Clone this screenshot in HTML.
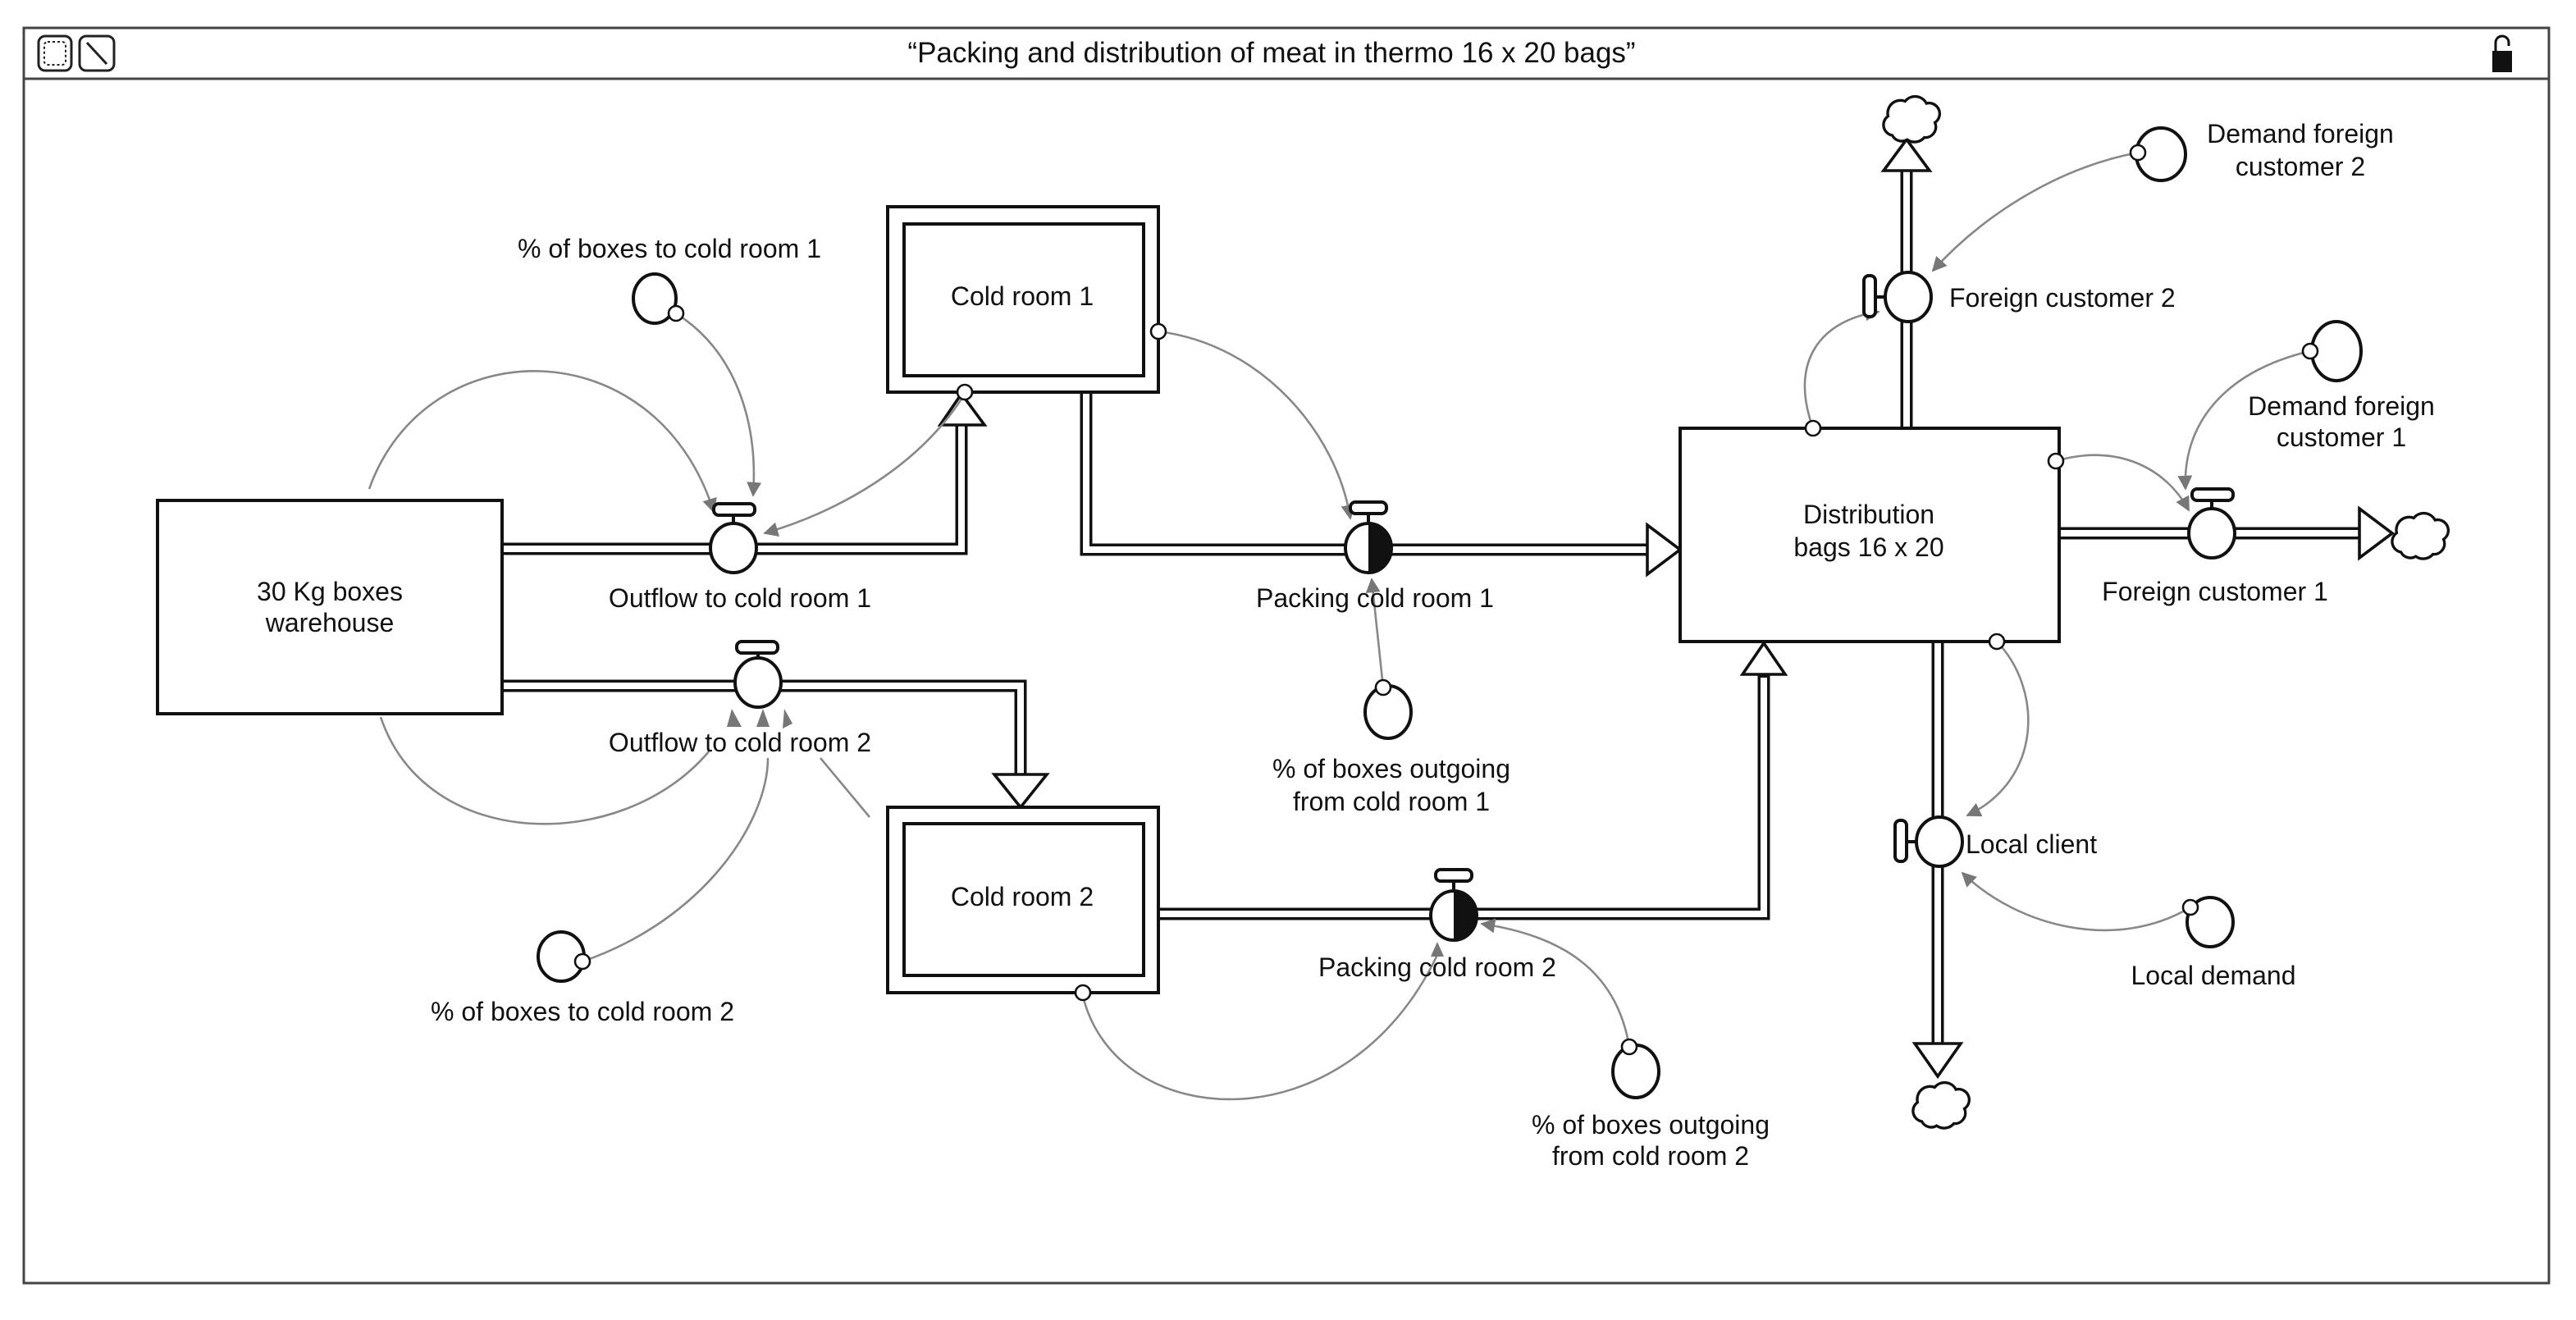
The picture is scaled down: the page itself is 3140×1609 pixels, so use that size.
<!DOCTYPE html>
<html><head><meta charset="utf-8"><style>
html,body{margin:0;padding:0;background:#fff;}
svg{display:block;}
text{font-family:"Liberation Sans",sans-serif;fill:#111;}
</style></head><body>
<svg width="3140" height="1609" viewBox="0 0 1570 804.5" xmlns="http://www.w3.org/2000/svg">
<defs>
<marker id="ar" viewBox="0 0 10 10" refX="9" refY="5" markerWidth="9" markerHeight="9" markerUnits="userSpaceOnUse" orient="auto"><path d="M0,0 L10,5 L0,10 z" fill="#777"/></marker>
<g id="cloud"><path d="M-9,5 a5,5 0 0 1 -2,-9 a6,6 0 0 1 8,-7 a6,6 0 0 1 10,1 a5,5 0 0 1 4,9 a5,5 0 0 1 -5,7 a6,6 0 0 1 -8,1 a5,5 0 0 1 -7,-2z" fill="#fff" stroke="#111" stroke-width="1.3" transform="scale(1.3)"/></g>
</defs>
<rect x="0" y="0" width="1570" height="804.5" fill="#fff"/>
<rect x="14.5" y="17" width="1539" height="765" fill="none" stroke="#444" stroke-width="1.5"/>
<line x1="14.5" y1="48" x2="1553.5" y2="48" stroke="#444" stroke-width="1.5"/>
<rect x="23.5" y="22" width="20" height="21" rx="4" fill="none" stroke="#222" stroke-width="1.5"/>
<rect x="27" y="25.5" width="13" height="14" rx="2" fill="none" stroke="#222" stroke-width="1" stroke-dasharray="1.5,1.5"/>
<rect x="48.5" y="22" width="21" height="21" rx="4" fill="none" stroke="#222" stroke-width="1.5"/>
<line x1="53" y1="26" x2="65" y2="39" stroke="#222" stroke-width="1.5"/>
<text x="775" y="38" font-size="17.5" text-anchor="middle">“Packing and distribution of meat in thermo 16 x 20 bags”</text>
<path d="M1521,32 v-6 a4,4 0 0 1 8,0 v2" fill="none" stroke="#111" stroke-width="1.5"/>
<rect x="1519" y="31" width="12" height="13" fill="#111"/>

<g fill="none" stroke-linejoin="miter">
<g stroke="#111" stroke-width="7.5">
<path d="M306,334.5 H586 V258"/>
<path d="M306,418 H622 V472"/>
<path d="M662,239 V335 H1006"/>
<path d="M706,557 H1075 V411"/>
<path d="M1162,261 V104"/>
<path d="M1255,325 H1440"/>
<path d="M1181,391 V637"/>
</g>
<g stroke="#fff" stroke-width="4">
<path d="M304,334.5 H586 V256"/>
<path d="M304,418 H622 V474"/>
<path d="M662,237 V335 H1008"/>
<path d="M704,557 H1075 V413"/>
<path d="M1162,263 V102"/>
<path d="M1253,325 H1442"/>
<path d="M1181,389 V639"/>
</g>
</g>
<g fill="#fff" stroke="#111" stroke-width="1.8" stroke-linejoin="miter">
<path d="M573,259 L586,240 L600,259 Z"/>
<path d="M606,472 L622,492 L638,472 Z"/>
<path d="M1004,320 L1024,335 L1004,350 Z"/>
<path d="M1062,411 L1075,392 L1088,411 Z"/>
<path d="M1148,104 L1162,85 L1176,104 Z"/>
<path d="M1438,310 L1458,325 L1438,340 Z"/>
<path d="M1167,636 L1181,656 L1195,636 Z"/>
</g>
<use href="#cloud" x="1165" y="76"/>
<use href="#cloud" x="1475" y="330"/>
<use href="#cloud" x="1183" y="677"/>

<g fill="#fff" stroke="#111" stroke-width="2">
<rect x="96" y="305" width="210" height="130"/>
<rect x="541" y="126" width="165" height="113"/>
<rect x="551" y="136.5" width="146" height="92.5"/>
<rect x="541" y="492" width="165" height="113"/>
<rect x="551" y="502" width="146" height="92.5"/>
<rect x="1024" y="261" width="231" height="130"/>
</g>
<g font-size="16" text-anchor="middle">
<text x="201" y="366">30 Kg boxes</text><text x="201" y="385">warehouse</text>
<text x="623" y="186">Cold room 1</text>
<text x="623" y="552">Cold room 2</text>
<text x="1139" y="319">Distribution</text><text x="1139" y="339">bags 16 x 20</text>
</g>

<g fill="none" stroke="#888" stroke-width="1.3">
<path d="M225,298 C260,200 400,200 435,312" marker-end="url(#ar)"/>
<path d="M412,191 C450,215 462,260 459,302" marker-end="url(#ar)"/>
<path d="M588,240 C560,285 510,312 466,325" marker-end="url(#ar)"/>
<path d="M706,202 C770,210 815,265 823,316" marker-end="url(#ar)"/>
<path d="M843,419 L836,353" marker-end="url(#ar)"/>
<path d="M232,437 C260,520 380,520 432,458"/>
<path d="M355,586 C430,560 468,500 468,462"/>
<path d="M530,498 L500,462"/>
<path d="M660,607 C680,690 820,700 876,582"/>
<path d="M993,638 C985,590 950,570 903,563" marker-end="url(#ar)"/>
<path d="M1105,261 C1090,220 1110,195 1145,190" marker-end="url(#ar)"/>
<path d="M1303,93 C1250,103 1205,135 1178,165" marker-end="url(#ar)"/>
<path d="M1253,281 C1290,270 1320,285 1334,311" marker-end="url(#ar)"/>
<path d="M1408,214 C1360,225 1330,255 1332,298" marker-end="url(#ar)"/>
<path d="M1217,391 C1245,420 1245,475 1199,497" marker-end="url(#ar)"/>
<path d="M1335,553 C1290,580 1230,565 1196,532" marker-end="url(#ar)"/>
</g>
<g fill="#777">
<path d="M446,432 L452,443 L443,443 Z"/>
<path d="M465,432 L469,443 L461,443 Z"/>
<path d="M478,432 L483,441 L477,444 Z"/>
<path d="M876,574 L880,583 L872,583 Z"/>
</g>

<g fill="#fff" stroke="#111" stroke-width="2">
<line x1="447" y1="314" x2="447" y2="320"/><rect x="435" y="307" width="25" height="7" rx="3"/>
<ellipse cx="447" cy="334" rx="14" ry="15"/>
<line x1="462" y1="398" x2="462" y2="402"/><rect x="449" y="391" width="25" height="7" rx="3"/>
<ellipse cx="462" cy="416" rx="14" ry="15"/>
<line x1="834" y1="312" x2="834" y2="318"/><rect x="823" y="306" width="22" height="7" rx="3"/>
<ellipse cx="834" cy="334" rx="14" ry="15"/>
<line x1="886" y1="537" x2="886" y2="542"/><rect x="875" y="530" width="22" height="7" rx="3"/>
<ellipse cx="886" cy="558" rx="14" ry="15"/>
<line x1="1142" y1="181" x2="1149" y2="181"/><rect x="1136" y="168" width="7" height="25" rx="3"/>
<ellipse cx="1163" cy="181" rx="14" ry="15"/>
<line x1="1348" y1="305" x2="1348" y2="310"/><rect x="1336" y="298" width="25" height="7" rx="3"/>
<ellipse cx="1348" cy="325" rx="14" ry="15"/>
<line x1="1161" y1="513" x2="1168" y2="513"/><rect x="1155" y="500" width="7" height="25" rx="3"/>
<ellipse cx="1182" cy="513" rx="14" ry="15"/>
</g>
<path d="M834,319 A14,15 0 0 1 834,349 Z" fill="#111"/>
<path d="M886,543 A14,15 0 0 1 886,573 Z" fill="#111"/>

<g fill="#fff" stroke="#111" stroke-width="2">
<ellipse cx="399" cy="182" rx="13" ry="15"/>
<ellipse cx="846" cy="434" rx="14" ry="16"/>
<ellipse cx="342" cy="583" rx="14" ry="15"/>
<ellipse cx="997" cy="653" rx="14" ry="16"/>
<ellipse cx="1317" cy="94" rx="15" ry="16"/>
<ellipse cx="1424" cy="214" rx="15" ry="18"/>
<ellipse cx="1347" cy="562" rx="14" ry="15"/>
</g>
<g fill="#fff" stroke="#111" stroke-width="1.3">
<circle cx="412" cy="191" r="4.5"/>
<circle cx="588" cy="239" r="4.5"/>
<circle cx="706" cy="202" r="4.5"/>
<circle cx="843" cy="419" r="4.5"/>
<circle cx="355" cy="586" r="4.5"/>
<circle cx="660" cy="605" r="4.5"/>
<circle cx="993" cy="638" r="4.5"/>
<circle cx="1105" cy="261" r="4.5"/>
<circle cx="1303" cy="93" r="4.5"/>
<circle cx="1253" cy="281" r="4.5"/>
<circle cx="1408" cy="214" r="4.5"/>
<circle cx="1217" cy="391" r="4.5"/>
<circle cx="1335" cy="553" r="4.5"/>
</g>

<g font-size="16">
<text x="408" y="157" text-anchor="middle">% of boxes to cold room 1</text>
<text x="451" y="370" text-anchor="middle">Outflow to cold room 1</text>
<text x="451" y="458" text-anchor="middle">Outflow to cold room 2</text>
<text x="838" y="370" text-anchor="middle">Packing cold room 1</text>
<text x="876" y="595" text-anchor="middle">Packing cold room 2</text>
<text x="848" y="474" text-anchor="middle">% of boxes outgoing</text>
<text x="848" y="494" text-anchor="middle">from cold room 1</text>
<text x="355" y="622" text-anchor="middle">% of boxes to cold room 2</text>
<text x="1006" y="691" text-anchor="middle">% of boxes outgoing</text>
<text x="1006" y="710" text-anchor="middle">from cold room 2</text>
<text x="1402" y="87" text-anchor="middle">Demand foreign</text>
<text x="1402" y="107" text-anchor="middle">customer 2</text>
<text x="1188" y="187">Foreign customer 2</text>
<text x="1427" y="253" text-anchor="middle">Demand foreign</text>
<text x="1427" y="272" text-anchor="middle">customer 1</text>
<text x="1350" y="366" text-anchor="middle">Foreign customer 1</text>
<text x="1198" y="520">Local client</text>
<text x="1349" y="600" text-anchor="middle">Local demand</text>
</g>
</svg>
</body></html>
